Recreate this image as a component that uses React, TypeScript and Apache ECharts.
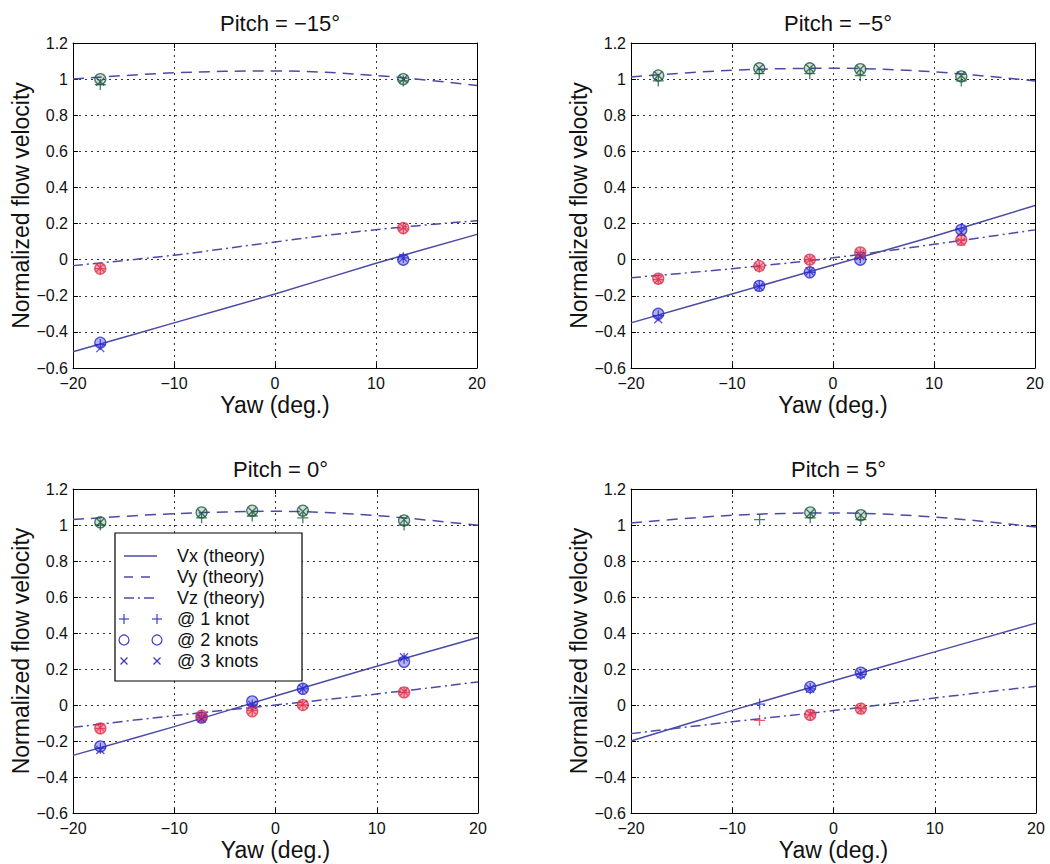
import React, { useEffect, useRef } from 'react';
import * as echarts from 'echarts';

// ---------- data ----------
const panelTitles = ['Pitch = −15°', 'Pitch = −5°', 'Pitch = 0°', 'Pitch = 5°'];
const xAxisTitle = 'Yaw (deg.)';
const yAxisTitle = 'Normalized flow velocity';
const legendLabels = ['Vx (theory)', 'Vy (theory)', 'Vz (theory)', '@ 1 knot', '@ 2 knots', '@ 3 knots'];

const yawTheory = [-20, -10, 0, 10, 20];
const yawMeasured = [-17.3, -7.3, -2.3, 2.7, 12.7];

// Pitch = −15°
const vxTheoryPm15 = [-0.51, -0.35, -0.19, -0.02, 0.14];
const vyTheoryPm15 = [1.0, 1.035, 1.045, 1.02, 0.965];
const vzTheoryPm15 = [-0.033, 0.025, 0.098, 0.166, 0.216];
const vxPm15Knot1 = [-0.47, null, null, null, 0.01];
const vxPm15Knot2 = [-0.46, null, null, null, 0.0];
const vxPm15Knot3 = [-0.49, null, null, null, 0.01];
const vyPm15Knot1 = [0.97, null, null, null, 0.99];
const vyPm15Knot2 = [1.0, null, null, null, 1.0];
const vyPm15Knot3 = [0.985, null, null, null, 1.0];
const vzPm15Knot1 = [-0.05, null, null, null, 0.17];
const vzPm15Knot2 = [-0.05, null, null, null, 0.175];
const vzPm15Knot3 = [-0.045, null, null, null, 0.18];

// Pitch = −5°
const vxTheoryPm5 = [-0.35, -0.19, -0.03, 0.13, 0.3];
const vyTheoryPm5 = [1.012, 1.049, 1.06, 1.04, 0.99];
const vzTheoryPm5 = [-0.1, -0.05, 0.01, 0.085, 0.165];
const vxPm5Knot1 = [-0.31, -0.145, -0.07, 0.01, 0.17];
const vxPm5Knot2 = [-0.3, -0.145, -0.07, 0.0, 0.165];
const vxPm5Knot3 = [-0.33, -0.15, -0.065, 0.02, 0.15];
const vyPm5Knot1 = [0.99, 1.03, 1.03, 1.02, 0.99];
const vyPm5Knot2 = [1.02, 1.06, 1.06, 1.055, 1.015];
const vyPm5Knot3 = [1.02, 1.06, 1.06, 1.055, 1.02];
const vzPm5Knot1 = [-0.11, -0.04, 0.0, 0.04, 0.11];
const vzPm5Knot2 = [-0.105, -0.035, 0.0, 0.04, 0.11];
const vzPm5Knot3 = [-0.11, -0.04, 0.0, 0.035, 0.1];

// Pitch = 0°
const vxTheoryP0 = [-0.28, -0.12, 0.05, 0.215, 0.375];
const vyTheoryP0 = [1.03, 1.063, 1.076, 1.052, 0.998];
const vzTheoryP0 = [-0.124, -0.059, 0.0, 0.061, 0.128];
const vxP0Knot1 = [-0.24, -0.07, 0.0, 0.09, 0.26];
const vxP0Knot2 = [-0.23, -0.07, 0.02, 0.09, 0.24];
const vxP0Knot3 = [-0.25, -0.075, 0.0, 0.09, 0.265];
const vyP0Knot1 = [1.0, 1.04, 1.05, 1.04, 1.0];
const vyP0Knot2 = [1.015, 1.07, 1.08, 1.08, 1.025];
const vyP0Knot3 = [1.015, 1.065, 1.075, 1.075, 1.03];
const vzP0Knot1 = [-0.13, -0.06, -0.03, 0.0, 0.07];
const vzP0Knot2 = [-0.13, -0.06, -0.035, 0.0, 0.07];
const vzP0Knot3 = [-0.125, -0.065, -0.03, 0.005, 0.075];

// Pitch = 5°
const vxTheoryP5 = [-0.2, -0.03, 0.135, 0.295, 0.455];
const vyTheoryP5 = [1.011, 1.054, 1.067, 1.044, 0.989];
const vzTheoryP5 = [-0.159, -0.093, -0.031, 0.039, 0.104];
const vxP5Knot1 = [null, 0.005, 0.09, 0.17, null];
const vxP5Knot2 = [null, null, 0.1, 0.18, null];
const vxP5Knot3 = [null, null, 0.09, 0.17, null];
const vyP5Knot1 = [null, 1.03, 1.04, 1.03, null];
const vyP5Knot2 = [null, null, 1.07, 1.055, null];
const vyP5Knot3 = [null, null, 1.065, 1.055, null];
const vzP5Knot1 = [null, -0.085, -0.055, -0.02, null];
const vzP5Knot2 = [null, null, -0.055, -0.02, null];
const vzP5Knot3 = [null, null, -0.05, -0.025, null];

const panelTheory = [
  [vxTheoryPm15, vyTheoryPm15, vzTheoryPm15],
  [vxTheoryPm5, vyTheoryPm5, vzTheoryPm5],
  [vxTheoryP0, vyTheoryP0, vzTheoryP0],
  [vxTheoryP5, vyTheoryP5, vzTheoryP5],
];
const panelMeasured = [
  [[vxPm15Knot1, vxPm15Knot2, vxPm15Knot3], [vyPm15Knot1, vyPm15Knot2, vyPm15Knot3], [vzPm15Knot1, vzPm15Knot2, vzPm15Knot3]],
  [[vxPm5Knot1, vxPm5Knot2, vxPm5Knot3], [vyPm5Knot1, vyPm5Knot2, vyPm5Knot3], [vzPm5Knot1, vzPm5Knot2, vzPm5Knot3]],
  [[vxP0Knot1, vxP0Knot2, vxP0Knot3], [vyP0Knot1, vyP0Knot2, vyP0Knot3], [vzP0Knot1, vzP0Knot2, vzP0Knot3]],
  [[vxP5Knot1, vxP5Knot2, vxP5Knot3], [vyP5Knot1, vyP5Knot2, vyP5Knot3], [vzP5Knot1, vzP5Knot2, vzP5Knot3]],
];

// ---------- styles / layout ----------
const FONT = '"Liberation Sans", Arial, Helvetica, sans-serif';
const PLUS = 'path://M0,5L10,5M5,0L5,10';
const CROSS = 'path://M0,0L10,10M0,10L10,0';
const LINE_COLOR = '#4b4ba6';
const lineTypes: any[] = ['solid', [11, 7], [10, 4, 2, 4]];
const markerColors = ['#2b2bd0', '#1e5a3e', '#e2304c'];
const markerFills = ['rgba(43,43,208,0.45)', 'rgba(30,90,62,0.25)', 'rgba(226,48,76,0.5)'];
const knotSymbols = [PLUS, 'circle', CROSS];
const knotSizes = [11, 11, 8];

const grids = [
  { left: 73, top: 43, width: 404, height: 325 },
  { left: 631, top: 43, width: 404, height: 325 },
  { left: 73, top: 489, width: 405, height: 324 },
  { left: 631, top: 489, width: 405, height: 324 },
];

const fmt = (v: number) => String(Math.round(v * 10) / 10).replace('-', '−');

function buildOption() {
  const xAxis: any[] = [];
  const yAxis: any[] = [];
  const series: any[] = [];
  const title: any[] = [];

  grids.forEach((g, i) => {
    title.push({
      text: panelTitles[i],
      left: g.left + g.width / 2,
      top: g.top - 36,
      textAlign: 'center',
      textStyle: { fontFamily: FONT, fontSize: 22, fontWeight: 'normal', color: '#111' },
    });
    const common = { gridIndex: i, type: 'value' };
    xAxis.push({
      ...common,
      min: -20,
      max: 20,
      interval: 10,
      position: 'bottom',
      name: xAxisTitle,
      nameLocation: 'middle',
      nameGap: 25,
      nameTextStyle: { fontFamily: FONT, fontSize: 23, color: '#111' },
      axisLine: { show: true, onZero: false, lineStyle: { color: '#000', width: 1 } },
      axisTick: { show: true, inside: true, length: 5, lineStyle: { color: '#000' } },
      axisLabel: { fontFamily: FONT, fontSize: 16, color: '#111', margin: 7, formatter: fmt },
      splitLine: { show: true, lineStyle: { color: '#333', type: [2, 4], width: 1 } },
    });
    xAxis.push({
      ...common,
      min: -20,
      max: 20,
      interval: 10,
      position: 'top',
      axisLine: { show: true, onZero: false, lineStyle: { color: '#000', width: 1 } },
      axisTick: { show: true, inside: true, length: 5, lineStyle: { color: '#000' } },
      axisLabel: { show: false },
      splitLine: { show: false },
    });
    yAxis.push({
      ...common,
      min: -0.6,
      max: 1.2,
      interval: 0.2,
      position: 'left',
      name: yAxisTitle,
      nameLocation: 'middle',
      nameGap: 38,
      nameTextStyle: { fontFamily: FONT, fontSize: 23, color: '#111' },
      axisLine: { show: true, onZero: false, lineStyle: { color: '#000', width: 1 } },
      axisTick: { show: true, inside: true, length: 5, lineStyle: { color: '#000' } },
      axisLabel: { fontFamily: FONT, fontSize: 16, color: '#111', margin: 5, formatter: fmt },
      splitLine: { show: true, lineStyle: { color: '#333', type: [2, 4], width: 1 } },
    });
    yAxis.push({
      ...common,
      min: -0.6,
      max: 1.2,
      interval: 0.2,
      position: 'right',
      axisLine: { show: true, onZero: false, lineStyle: { color: '#000', width: 1 } },
      axisTick: { show: true, inside: true, length: 5, lineStyle: { color: '#000' } },
      axisLabel: { show: false },
      splitLine: { show: false },
    });

    const xi = i * 2;
    const yi = i * 2;
    panelTheory[i].forEach((vals, c) => {
      series.push({
        type: 'line',
        xAxisIndex: xi,
        yAxisIndex: yi,
        data: yawTheory.map((x, k) => [x, vals[k]]),
        smooth: 0.35,
        showSymbol: false,
        symbol: 'none',
        lineStyle: { color: LINE_COLOR, width: 1.5, type: lineTypes[c] },
        z: 2,
      });
    });
    panelMeasured[i].forEach((knots, c) => {
      knots.forEach((vals, k) => {
        series.push({
          type: 'scatter',
          xAxisIndex: xi,
          yAxisIndex: yi,
          data: yawMeasured.map((x, j) => [x, vals[j]]).filter((p) => p[1] !== null),
          symbol: knotSymbols[k],
          symbolSize: knotSizes[k],
          itemStyle: {
            color: k === 1 ? markerFills[c] : 'rgba(0,0,0,0)',
            borderColor: markerColors[c],
            borderWidth: 1.3,
          },
          z: 3 + k,
        });
      });
    });
  });

  // legend drawn in panel 3
  const lx = 115;
  const ly = 533;
  const rowY = (r: number) => ly + 23 + r * 21;
  const m1 = lx + 9;
  const m2 = lx + 42;
  const legendColor = '#3a3ac8';
  const gfx: any[] = [
    { type: 'rect', shape: { x: lx, y: ly, width: 187, height: 148 }, style: { fill: '#fff', stroke: '#000', lineWidth: 1.2 }, z: 100 },
  ];
  for (let r = 0; r < 3; r++) {
    gfx.push({
      type: 'line',
      shape: { x1: m1, y1: rowY(r), x2: m2, y2: rowY(r) },
      style: { stroke: LINE_COLOR, lineWidth: 1.4, lineDash: r === 0 ? null : r === 1 ? [9, 8] : [10, 4, 2, 4] },
      z: 101,
    });
  }
  [m1, m2].forEach((cx) => {
    const y3 = rowY(3);
    gfx.push({ type: 'line', shape: { x1: cx - 5, y1: y3, x2: cx + 5, y2: y3 }, style: { stroke: legendColor, lineWidth: 1.2 }, z: 101 });
    gfx.push({ type: 'line', shape: { x1: cx, y1: y3 - 5, x2: cx, y2: y3 + 5 }, style: { stroke: legendColor, lineWidth: 1.2 }, z: 101 });
    gfx.push({ type: 'circle', shape: { cx, cy: rowY(4), r: 5 }, style: { fill: 'none', stroke: legendColor, lineWidth: 1.2 }, z: 101 });
    const y5 = rowY(5);
    gfx.push({ type: 'line', shape: { x1: cx - 3.5, y1: y5 - 3.5, x2: cx + 3.5, y2: y5 + 3.5 }, style: { stroke: legendColor, lineWidth: 1.2 }, z: 101 });
    gfx.push({ type: 'line', shape: { x1: cx - 3.5, y1: y5 + 3.5, x2: cx + 3.5, y2: y5 - 3.5 }, style: { stroke: legendColor, lineWidth: 1.2 }, z: 101 });
  });
  legendLabels.forEach((t, r) => {
    gfx.push({
      type: 'text',
      x: lx + 62,
      y: rowY(r),
      style: { text: t, fontFamily: FONT, fontSize: 18, fill: '#111', verticalAlign: 'middle', align: 'left' },
      z: 101,
    });
  });

  return {
    animation: false,
    backgroundColor: '#fff',
    title,
    grid: grids.map((g) => ({ ...g, containLabel: false })),
    xAxis,
    yAxis,
    series,
    graphic: gfx,
  };
}

export default function App() {
  const ref = useRef<HTMLDivElement>(null);
  useEffect(() => {
    if (!ref.current) return;
    const chart = echarts.init(ref.current, undefined, { renderer: 'svg' });
    chart.setOption(buildOption() as any);
    return () => chart.dispose();
  }, []);
  return <div ref={ref} style={{ position: 'absolute', left: 0, top: 0, width: 1050, height: 864 }} />;
}
